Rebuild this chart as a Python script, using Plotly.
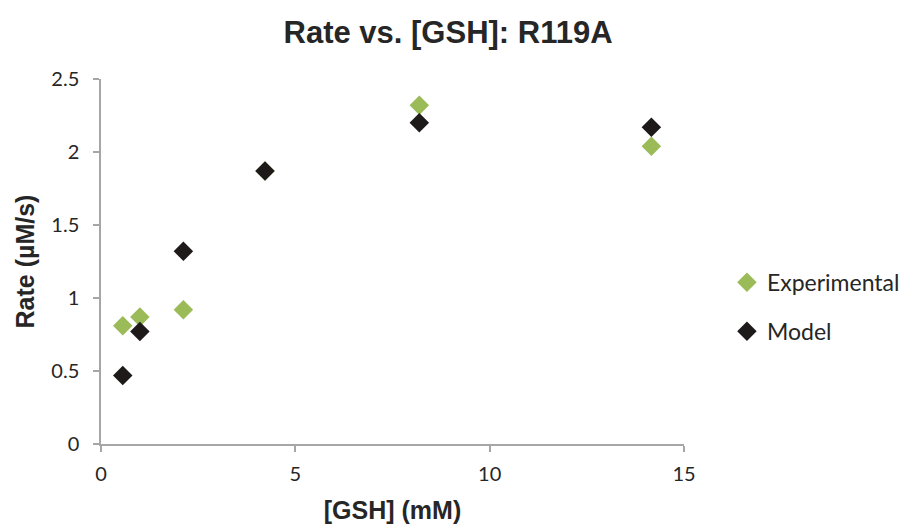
import plotly.graph_objects as go

# GSH concentration (mM) and reaction rate (uM/s)
gsh_mM = [0.56, 1.0, 2.12, 4.22, 8.19, 14.16]
rate_experimental = [0.81, 0.87, 0.92, 1.87, 2.32, 2.04]
rate_model = [0.47, 0.77, 1.32, 1.87, 2.20, 2.17]

x_ticks = [0, 5, 10, 15]
y_ticks = [0, 0.5, 1, 1.5, 2, 2.5]

GREEN = "#9BBB59"
BLACK = "#1E1A1A"
AXIS_GRAY = "#A6A6A6"
TEXT = "#262626"
BOLD_FONT = "Liberation Sans, Arial, sans-serif"
BODY_FONT = "Lato, Open Sans, sans-serif"

fig = go.Figure()
fig.add_trace(go.Scatter(
    x=gsh_mM, y=rate_experimental, mode="markers", name="Experimental",
    legendgroup="exp",
    marker=dict(symbol="diamond", size=15, color=GREEN, line=dict(width=0)),
))
fig.add_trace(go.Scatter(
    x=gsh_mM, y=rate_model, mode="markers", name="Model",
    legendgroup="model",
    marker=dict(symbol="diamond", size=15, color=BLACK, line=dict(width=0)),
))

axis_common = dict(
    showgrid=False, zeroline=False, showline=True, linecolor=AXIS_GRAY,
    linewidth=1.5, ticks="outside", ticklen=6, tickcolor=AXIS_GRAY,
    tickwidth=1.5, tickfont=dict(family=BODY_FONT, size=20, color=TEXT),
)

fig.update_layout(
    width=907, height=531,
    margin=dict(l=101, r=223, t=79, b=87, autoexpand=False),
    paper_bgcolor="white", plot_bgcolor="white",
    title=dict(
        text="<b>Rate vs. [GSH]: R119A</b>",
        x=0.494, xanchor="center", y=0.94, yanchor="middle",
        font=dict(family=BOLD_FONT, size=31, color=TEXT),
    ),
    xaxis=dict(
        range=[0, 15], tickvals=x_ticks, ticklabelstandoff=5,
        title=dict(text="<b>[GSH] (mM)</b>", standoff=18,
                   font=dict(family=BOLD_FONT, size=25, color=TEXT)),
        **axis_common,
    ),
    yaxis=dict(
        range=[0, 2.5], tickvals=y_ticks, ticklabelstandoff=10,
        title=dict(text="<b>Rate (µM/s)</b>", standoff=10,
                   font=dict(family=BOLD_FONT, size=25, color=TEXT)),
        **axis_common,
    ),
    legend=dict(
        xref="container", yref="container",
        x=0.8015, y=0.422, xanchor="left", yanchor="middle",
        font=dict(family=BODY_FONT, size=23, color=TEXT),
        tracegroupgap=16, bgcolor="rgba(0,0,0,0)",
    ),
    showlegend=True,
)

fig.write_html("out.html")
